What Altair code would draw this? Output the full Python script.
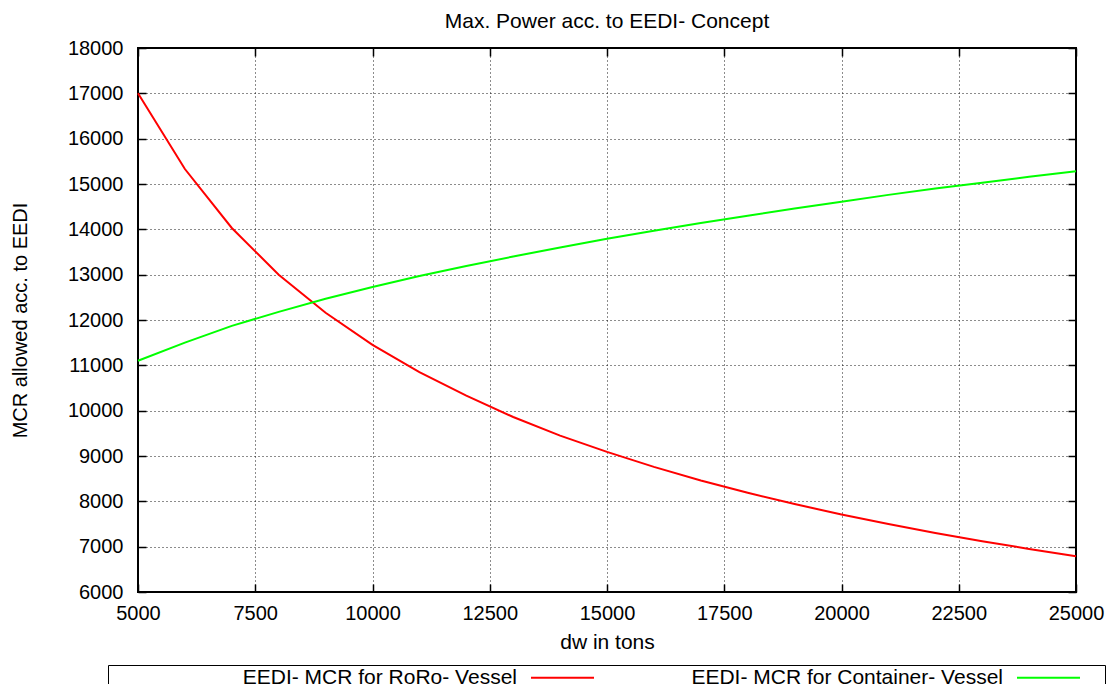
import altair as alt
import pandas as pd

# ---- data ----
dw = [5000, 6000, 7000, 8000, 9000, 10000, 11000, 12000, 13000, 14000, 15000,
      16000, 17000, 18000, 19000, 20000, 21000, 22000, 23000, 24000, 25000]
roro = [17000, 15330, 14030, 13000, 12160, 11450, 10850, 10330, 9860, 9450, 9090,
        8760, 8460, 8190, 7940, 7710, 7500, 7300, 7120, 6950, 6790]
container = [11100, 11500, 11870, 12180, 12470, 12730, 12970, 13190, 13400, 13600, 13790,
             13970, 14140, 14300, 14460, 14610, 14760, 14900, 15030, 15160, 15280]
series_names = ["EEDI- MCR for RoRo- Vessel", "EEDI- MCR for Container- Vessel"]
series_colors = ["#ff0000", "#00ff00"]
x_ticks = [5000, 7500, 10000, 12500, 15000, 17500, 20000, 22500, 25000]
y_ticks = [6000, 7000, 8000, 9000, 10000, 11000, 12000, 13000, 14000, 15000, 16000, 17000, 18000]

df = pd.DataFrame({
    "dw": dw + dw,
    "mcr": roro + container,
    "series": [series_names[0]] * len(dw) + [series_names[1]] * len(dw),
})

FONT = "Liberation Sans"
xscale = alt.Scale(domain=[5000, 25000], nice=False, zero=False)
yscale = alt.Scale(domain=[6000, 18000], nice=False, zero=False)

grid_op_x = alt.condition("datum.value == 5000 || datum.value == 25000", alt.value(0), alt.value(0.9))
grid_op_y = alt.condition("datum.value == 6000 || datum.value == 18000", alt.value(0), alt.value(0.9))

base = alt.Chart(df)

lines = base.mark_line(strokeWidth=2).encode(
    x=alt.X("dw:Q", scale=xscale, axis=alt.Axis(
        orient="bottom", values=x_ticks, format="d", title="dw in tons",
        grid=True, gridOpacity=grid_op_x, ticks=False, tickSize=0, domain=False,
        labelFlush=False, labelPadding=11, labelFontSize=20,
        titleFontSize=21, titleBaseline="alphabetic", titleY=56)),
    y=alt.Y("mcr:Q", scale=yscale, axis=alt.Axis(
        orient="left", values=y_ticks, format="d", title="MCR allowed acc. to EEDI",
        grid=True, gridOpacity=grid_op_y, ticks=False, tickSize=0, domain=False,
        labelFlush=False, labelPadding=15, labelFontSize=20,
        titleFontSize=20, titleBaseline="alphabetic", titleX=-112)),
    color=alt.Color("series:N", sort=series_names,
                    scale=alt.Scale(domain=series_names, range=series_colors),
                    legend=alt.Legend(
                        orient="none", legendX=-30, legendY=617,
                        direction="horizontal", columns=2,
                        title="\u00a0", titleOrient="left", titleFontSize=1, titlePadding=442,
                        symbolType="M-5,0H5M8,0", symbolSize=158.76, symbolStrokeWidth=2,
                        symbolOffset=0, labelOffset={"expr": "-56"}, labelAlign="right",
                        labelFont=FONT, labelFontSize=21, labelColor="black", labelLimit=800,
                        columnPadding=74, padding=2, strokeColor="black")),
)

tk = dict(labels=False, domain=False, grid=False, ticks=True, tickSize=8,
          tickWidth=1.5, tickColor="black", offset=-8, title=None)

ticks_a = base.mark_line(strokeOpacity=0).encode(
    x=alt.X("dw:Q", scale=xscale, axis=alt.Axis(orient="bottom", values=x_ticks, **tk)),
    y=alt.Y("mcr:Q", scale=yscale, axis=alt.Axis(orient="left", values=y_ticks, **tk)),
    detail="series:N",
)
ticks_b = base.mark_line(strokeOpacity=0).encode(
    x=alt.X("dw:Q", scale=xscale, axis=alt.Axis(orient="top", values=x_ticks, **tk)),
    y=alt.Y("mcr:Q", scale=yscale, axis=alt.Axis(orient="right", values=y_ticks, **tk)),
    detail="series:N",
)

chart = alt.layer(lines, ticks_a, ticks_b).resolve_axis(
    x="independent", y="independent"
).properties(
    width=938, height=544,
    title=alt.TitleParams("Max. Power acc. to EEDI- Concept", font=FONT, fontSize=21,
                          fontWeight="normal", color="black", anchor="middle",
                          frame="group", baseline="alphabetic", offset=11, dy=22),
    autosize=alt.AutoSizeParams(type="none"),
    padding={"left": 130, "top": 40, "right": 30, "bottom": 92},
).configure_view(
    stroke="black", strokeWidth=2
).configure_axis(
    labelFont=FONT, titleFont=FONT, labelColor="black", titleColor="black",
    titleFontWeight="normal", gridColor="#000000", gridDash=[1, 3], gridWidth=1,
)

chart.save("out.html", embed_options={"renderer": "svg", "actions": False})
